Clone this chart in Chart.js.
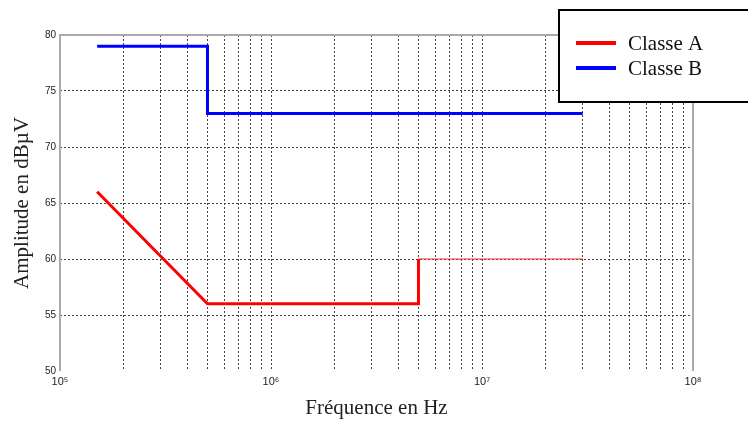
<!DOCTYPE html>
<html>
<head>
<meta charset="utf-8">
<script src="https://cdn.jsdelivr.net/npm/chart.js@4/dist/chart.umd.min.js"></script>
<style>
  html, body { margin: 0; padding: 0; background: #fff; }
  #wrap { width: 748px; height: 422px; }
</style>
</head>
<body>
<div id="wrap"><canvas id="limitChart" width="748" height="422"></canvas></div>
<script>
// Limites (dBµV) en fonction de la fréquence
const freqA = [1.5e5, 5e5, 5e6, 5e6, 3e7];
const levelA = [66, 56, 56, 60, 60];
const freqB = [1.5e5, 5e5, 5e5, 3e7];
const levelB = [79, 79, 73, 73];

const seriesNames = ['Classe A', 'Classe B'];
const decades = [1e5, 1e6, 1e7, 1e8];
const decadeLabels = ['10\u2075', '10\u2076', '10\u2077', '10\u2078'];
const yTicks = [50, 55, 60, 65, 70, 75, 80];

const GRID = '#444';

function toPoints(xs, ys) {
    return xs.map((x, i) => ({ x, y: ys[i] }));
}

// box: left, top, right (no bottom line, as in the original figure)
const framePlugin = {
    id: 'frame',
    beforeDatasetsDraw(chart) {
        const { ctx, chartArea: a } = chart;
        ctx.save();
        ctx.strokeStyle = '#aaa';
        ctx.lineWidth = 2;
        ctx.setLineDash([]);
        ctx.beginPath();
        ctx.moveTo(a.left, a.bottom);
        ctx.lineTo(a.left, a.top);
        ctx.lineTo(a.right, a.top);
        ctx.lineTo(a.right, a.bottom);
        ctx.stroke();
        ctx.restore();
    }
};

// boxed legend in the upper right corner
const boxLegend = {
    id: 'boxLegend',
    afterDraw(chart) {
        const { ctx, chartArea: a } = chart;
        const bx = a.right - 134, by = 10;
        ctx.save();
        ctx.fillStyle = '#fff';
        ctx.strokeStyle = '#000';
        ctx.lineWidth = 2;
        ctx.fillRect(bx, by, 200, 92);
        ctx.strokeRect(bx, by, 200, 92);
        ctx.font = '21px "Liberation Serif", serif';
        ctx.textBaseline = 'middle';
        chart.data.datasets.forEach((ds, i) => {
            const ly = by + 33 + i * 25;
            ctx.strokeStyle = ds.borderColor;
            ctx.lineWidth = 4;
            ctx.beginPath();
            ctx.moveTo(bx + 17, ly);
            ctx.lineTo(bx + 57, ly);
            ctx.stroke();
            ctx.fillStyle = '#111';
            ctx.fillText(ds.label, bx + 69, ly + 1);
        });
        ctx.restore();
    }
};

const ctx = document.getElementById('limitChart').getContext('2d');
new Chart(ctx, {
    type: 'line',
    data: {
        datasets: [
            {
                label: seriesNames[0],
                data: toPoints(freqA, levelA),
                borderColor: '#ff0000',
                borderWidth: 3,
                pointRadius: 0,
                tension: 0,
                segment: {
                    borderWidth: c => c.p0DataIndex === 3 ? 1.2 : 3,
                    borderColor: c => c.p0DataIndex === 3 ? '#ff3030' : '#ff0000'
                }
            },
            {
                label: seriesNames[1],
                data: toPoints(freqB, levelB),
                borderColor: '#0000ff',
                borderWidth: 3,
                pointRadius: 0,
                tension: 0
            }
        ]
    },
    options: {
        responsive: false,
        animation: false,
        layout: { padding: { left: 0, right: 55, top: 35, bottom: 0 } },
        plugins: {
            legend: { display: false },
            tooltip: { enabled: false }
        },
        scales: {
            x: {
                type: 'logarithmic',
                min: decades[0],
                max: decades[decades.length - 1],
                afterBuildTicks: scale => {
                    const t = [];
                    for (let d = 0; d < decades.length - 1; d++) {
                        for (let m = 1; m < 10; m++) t.push({ value: decades[d] * m });
                    }
                    t.push({ value: decades[decades.length - 1] });
                    scale.ticks = t;
                },
                afterFit: scale => { scale.height = 51; },
                ticks: {
                    autoSkip: false,
                    maxRotation: 0,
                    padding: 4,
                    color: '#222',
                    font: { family: '"Liberation Sans", Arial, sans-serif', size: 11 },
                    callback: function (v) {
                        const i = decades.indexOf(v);
                        return i >= 0 ? decadeLabels[i] : '';
                    }
                },
                grid: {
                    drawTicks: false,
                    tickLength: 0,
                    lineWidth: 1,
                    color: c => (c.tick && (c.tick.value === decades[0] || c.tick.value === decades[decades.length - 1])) ? 'rgba(0,0,0,0)' : GRID
                },
                border: { display: false, dash: [2, 2] },
                title: {
                    display: true,
                    text: 'Fréquence en Hz',
                    color: '#222',
                    font: { family: '"Liberation Serif", serif', size: 21 },
                    padding: { top: 0, bottom: 1 }
                }
            },
            y: {
                min: yTicks[0],
                max: yTicks[yTicks.length - 1],
                afterBuildTicks: scale => { scale.ticks = yTicks.map(v => ({ value: v })); },
                afterFit: scale => { scale.width = 60; },
                ticks: {
                    padding: 4,
                    color: '#222',
                    font: { family: '"Liberation Sans", Arial, sans-serif', size: 10 }
                },
                grid: {
                    drawTicks: false,
                    tickLength: 0,
                    lineWidth: 1,
                    color: c => (c.tick && (c.tick.value === yTicks[0] || c.tick.value === yTicks[yTicks.length - 1])) ? 'rgba(0,0,0,0)' : GRID
                },
                border: { display: false, dash: [2, 2] },
                title: {
                    display: true,
                    text: 'Amplitude en dBµV',
                    color: '#222',
                    font: { family: '"Liberation Serif", serif', size: 21 },
                    padding: { top: 10, bottom: 0 }
                }
            }
        }
    },
    plugins: [framePlugin, boxLegend]
});
</script>
</body>
</html>
